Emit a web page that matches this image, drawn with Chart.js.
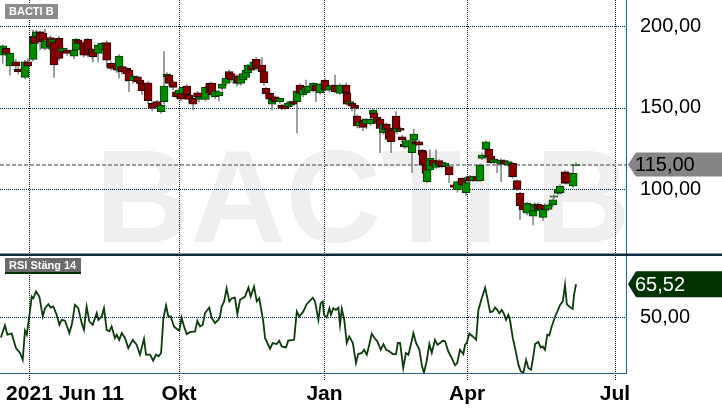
<!DOCTYPE html>
<html><head><meta charset="utf-8">
<script src="https://cdn.jsdelivr.net/npm/chart.js@4/dist/chart.umd.min.js"></script>
<style>
html,body{margin:0;padding:0;background:#fff;width:722px;height:410px;overflow:hidden}
#top{position:absolute;left:0;top:0}
#bot{position:absolute;left:0;top:255px}
</style></head><body>
<canvas id="top" width="722" height="255"></canvas>
<canvas id="bot" width="722" height="155"></canvas>
<script>
// ---- DATA (session index = trading-day position on the time axis) ----
const watermark = 'BACTI B';
const priceTitle = 'BACTI B';
const rsiTitle = 'RSI Stäng 14';

const sessions = [
1.2,2.7,4.4,7.0,8.1,11.1,12.4,14.7,15.3,16.1,
17.8,19.1,20.0,22.4,23.4,24.0,26.2,27.8,29.8,32.9,
33.8,34.7,37.2,39.1,40.9,41.3,43.6,45.3,47.4,49.3,
51.9,52.9,54.1,56.3,57.3,59.1,61.1,62.2,63.1,65.8,
67.6,69.8,71.6,72.9,74.2,75.1,76.9,78.4,79.5,80.4,
81.5,83.0,83.9,85.8,87.8,88.4,91.3,93.2,94.2,95.6,
97.3,98.7,100.4,101.8,102.7,105.2,105.8,107.0,108.1,109.3,
110.2,111.6,112.8,113.9,116.4,117.3,118.2,119.8,120.9,122.2,
124.4,125.2,126.7,128.1,129.2,130.2,132.0,133.3,134.7,136.0,
137.0,139.3,140.4,142.2,144.4,146.4,148.0,148.9,151.1,153.8,
154.2,155.4,156.4,157.6,158.7,159.7,161.3,162.8,164.7,165.8,
166.2,167.6,168.9,170.4,171.7,172.9,173.8,176.0,176.4,177.8,
178.7,179.6,180.4,183.1,183.9,184.9,186.2,187.6,188.0,189.3,
189.8,191.1,192.4,193.8,195.1,196.4,197.8,199.6,201.8,203.3,
205.3,207.1,208.0,208.8,210.2,212.0,213.3,214.2,216.0,217.2,
218.1,219.6,220.9,222.7,224.0,225.8,227.8,229.8,231.1,232.4,
234.2,236.9,237.6,239.0,240.0,241.3,242.2,243.6,245.7,246.2,
248.0,248.9,251.1,252.2,254.7,256.0];
const opens = [
182.2,186.3,175.5,178.1,173.4,168.5,178.1,179.6,193.9,193.5,
196.5,195.5,186.3,193.0,185.7,190.4,192.4,184.3,185.3,181.6,
185.3,191.4,189.8,191.8,185.7,184.3,183.2,185.7,189.8,177.1,
176.1,173.0,175.1,174.0,173.0,166.5,168.9,166.9,164.8,165.2,
152.6,153.6,147.4,153.6,168.9,169.9,165.8,159.7,157.7,158.7,
158.3,163.2,157.7,155.6,159.1,155.0,155.0,164.8,164.8,156.6,
157.1,161.8,164.8,172.0,170.9,164.8,169.3,164.8,166.9,168.5,
171.4,175.1,174.0,179.6,176.1,172.0,161.8,158.7,152.1,156.6,
153.6,151.5,151.5,150.5,151.5,153.6,153.6,163.8,157.7,159.1,
160.0,160.7,163.8,159.1,166.9,160.7,161.0,163.8,158.7,163.8,
159.1,152.1,152.6,151.5,144.8,138.7,142.3,139.9,139.9,146.0,
146.8,144.0,142.7,134.6,139.9,137.2,136.2,144.8,135.2,137.2,
132.1,127.5,126.0,122.3,130.1,129.0,129.0,123.9,122.9,114.7,
104.5,111.7,117.8,113.3,117.4,116.2,114.1,113.7,102.5,99.4,
106.5,97.8,105.0,107.6,105.1,107.6,105.1,118.8,124.3,124.3,
120.2,116.2,116.2,115.3,117.4,114.7,115.7,105.1,97.3,90.2,
85.1,83.4,86.7,90.8,90.2,82.6,90.2,87.5,90.2,95.0,
97.3,97.8,110.6,110.0,101.8,114.3];
const highs = [
188.5,187.5,184.0,179.5,175.0,179.0,180.0,197.5,195.0,197.5,
197.0,196.5,198.0,194.0,192.5,191.5,193.5,187.5,186.5,186.0,
192.5,192.0,190.5,192.5,186.5,185.0,189.0,190.0,191.0,178.0,
177.0,182.5,176.0,175.0,174.0,170.0,169.5,167.5,165.5,166.0,
153.5,154.5,152.5,184.3,171.5,170.5,166.5,160.5,161.5,159.5,
163.0,164.0,158.5,156.5,160.0,157.5,163.0,165.5,165.5,161.0,
160.5,165.0,168.5,173.0,171.5,170.0,170.0,170.0,171.5,173.5,
176.5,176.0,178.5,180.8,180.8,172.5,162.5,159.5,155.5,157.0,
156.0,152.0,152.0,153.0,154.0,154.0,161.0,164.5,162.0,166.9,
163.5,165.5,164.5,165.0,167.9,163.8,164.0,169.9,164.5,165.2,
159.5,154.0,153.0,152.0,145.5,142.0,143.0,143.5,143.5,149.0,
147.5,145.0,143.5,140.5,140.5,138.0,137.0,147.5,138.0,138.0,
133.0,128.5,130.5,130.5,136.6,130.0,130.0,124.5,123.5,115.5,
112.5,124.0,118.5,124.0,118.0,116.8,116.2,114.5,103.0,105.0,
107.0,104.5,107.5,108.5,108.0,108.0,115.5,122.0,129.5,125.0,
121.0,118.8,118.3,118.5,118.0,117.3,116.3,105.5,98.0,91.0,
92.0,87.5,91.5,91.5,90.8,88.8,91.0,90.8,94.0,96.5,
100.5,102.5,111.5,110.8,115.0,116.0];
const lows = [
177.1,182.0,169.9,174.0,170.5,167.5,174.5,178.5,188.5,192.5,
185.3,190.0,185.3,186.0,184.5,168.5,179.0,183.0,182.0,180.0,
184.0,188.5,181.0,181.0,180.0,178.0,178.0,184.5,175.0,173.0,
171.5,168.0,170.5,166.0,159.7,165.0,164.5,163.5,158.0,152.6,
148.0,149.5,146.4,152.0,167.5,163.5,161.0,155.5,156.5,154.0,
157.0,156.5,153.0,148.5,155.0,153.5,154.0,158.0,156.5,155.5,
154.0,160.5,163.5,166.5,165.5,163.0,164.0,163.5,165.5,167.0,
170.5,172.0,173.0,173.0,171.5,163.5,157.0,154.0,148.5,152.0,
152.5,148.5,148.8,149.5,150.5,151.5,134.4,157.5,156.5,158.0,
159.0,159.5,153.6,158.0,160.0,159.5,160.0,159.0,158.0,158.5,
151.5,151.0,148.0,142.3,137.5,137.5,135.8,137.0,139.0,145.0,
142.5,137.0,122.3,133.5,135.0,129.0,122.3,135.0,134.0,135.0,
129.0,125.0,125.0,110.0,129.5,126.5,124.0,120.0,114.0,109.0,
104.0,111.0,113.5,112.5,114.0,113.0,113.5,103.9,100.0,98.0,
101.5,96.0,104.0,104.0,104.5,104.5,104.5,118.0,123.5,119.0,
115.5,115.5,110.0,104.5,114.5,114.0,106.5,99.0,81.2,86.0,
84.0,77.9,86.0,87.0,87.5,80.5,86.0,86.5,89.0,94.0,
96.5,97.0,103.0,103.0,101.0,114.0];
const closes = [
187.9,183.2,183.2,175.5,172.0,178.1,175.5,193.5,189.4,196.5,
190.4,191.4,191.0,187.3,191.8,176.1,180.2,186.3,183.2,185.3,
191.8,189.4,182.2,182.2,182.2,181.2,188.3,189.4,179.1,174.0,
173.0,181.6,172.0,170.6,166.5,169.3,165.8,164.8,160.3,154.2,
149.5,150.5,151.5,163.2,170.6,164.8,162.4,156.6,160.7,155.2,
162.4,157.7,155.0,152.1,156.6,156.6,162.4,159.1,157.7,160.3,
159.7,164.4,167.9,167.9,166.9,169.3,165.2,169.3,170.9,173.0,
176.1,173.0,178.1,174.0,172.0,165.2,158.3,155.2,155.0,153.6,
155.6,149.5,149.3,152.6,153.6,152.1,160.3,158.7,161.1,162.4,
163.0,164.8,160.3,164.4,160.7,163.2,163.5,159.7,163.8,159.1,
152.1,153.6,150.9,149.5,138.7,141.3,137.8,142.7,142.7,148.5,
143.4,140.3,137.2,139.9,136.2,130.5,129.0,136.2,137.2,136.0,
130.1,125.8,129.7,129.7,133.7,127.5,126.9,120.9,114.7,109.6,
111.7,118.8,114.1,116.2,114.7,113.7,115.7,108.6,101.0,104.5,
102.5,103.9,107.0,105.1,107.6,105.1,114.7,120.9,129.0,119.8,
116.2,118.2,117.8,117.8,115.3,116.8,107.6,99.8,89.6,87.1,
91.2,86.7,90.8,87.5,88.1,88.1,87.1,90.2,93.3,95.8,
99.8,101.8,103.5,103.9,109.6,115.0];

const rsiSessions = [
0.4,2.2,3.3,5.2,7.1,8.9,10.1,11.1,11.9,13.3,
14.1,14.8,16.0,17.5,19.0,20.0,21.5,22.5,23.7,25.2,
26.4,27.4,28.9,30.8,31.9,33.3,34.8,36.3,37.3,38.5,
39.7,41.2,43.0,43.7,45.2,46.2,47.4,48.6,49.6,51.1,
51.9,53.0,54.1,55.6,57.0,59.0,60.7,62.2,64.0,64.9,
66.7,68.1,69.3,70.5,71.6,72.6,73.8,74.8,75.9,77.3,
78.5,79.7,80.7,81.8,83.0,84.4,86.7,87.7,88.9,90.1,
91.1,91.9,93.0,94.1,95.6,97.0,97.8,98.5,99.6,100.7,
101.9,103.0,104.4,105.5,106.7,108.9,110.4,111.4,112.9,114.1,
115.2,117.0,117.8,120.0,121.2,123.0,124.1,125.2,127.1,128.1,
130.7,131.9,133.0,134.8,136.3,139.0,140.0,141.5,142.5,143.4,
144.0,145.2,146.4,147.1,148.1,149.3,150.4,151.1,151.9,153.0,
154.1,155.2,156.8,158.2,159.2,160.8,161.8,163.0,164.1,165.2,
166.7,167.7,169.2,170.4,171.6,173.0,174.5,176.0,176.8,177.8,
179.2,180.4,181.5,183.0,183.7,184.9,186.4,187.4,188.4,189.6,
190.8,191.9,193.3,194.4,195.6,196.8,197.8,199.2,200.8,202.2,
203.2,204.4,205.9,206.7,207.4,208.6,210.1,211.6,212.6,214.1,
215.6,216.6,217.8,219.0,220.0,221.0,221.9,223.0,224.0,224.9,
225.9,226.7,227.9,228.9,230.4,231.4,232.6,233.8,234.8,236.0,
237.0,237.8,239.2,240.3,241.2,242.2,243.2,244.1,245.2,246.7,
247.7,248.9,250.1,251.1,251.9,253.0,254.5,255.1,256.0];
const rsiValues = [
40.4,46.1,41.7,42.2,35.4,33.1,29.9,43.6,41.7,52.7,
59.7,58.9,62.1,59.7,50.3,54.2,56.1,54.5,55.0,51.1,
46.4,48.7,48.3,42.5,46.4,55.8,54.2,47.2,44.0,55.0,
48.0,46.4,51.9,48.7,50.3,54.2,44.0,43.3,45.6,40.1,
41.7,39.3,42.5,40.1,35.4,39.3,37.0,32.3,39.8,32.3,
32.3,29.5,32.3,31.5,33.1,49.5,55.5,50.3,50.3,45.6,
44.5,43.6,49.8,45.6,42.0,42.9,43.3,48.3,45.6,46.4,
51.9,53.0,54.5,49.5,47.2,48.7,50.3,55.0,57.4,63.6,
57.4,58.9,59.2,51.4,58.2,59.7,64.0,59.7,64.4,57.4,
58.9,48.0,40.1,35.1,37.8,37.3,38.9,36.2,35.7,38.9,
39.3,52.7,50.3,52.7,56.1,59.2,57.4,48.7,56.6,57.4,
51.1,49.8,54.2,51.1,54.2,53.4,54.5,46.4,53.9,48.7,
37.8,40.9,37.8,28.4,32.6,33.1,34.6,32.3,37.0,42.2,
39.8,38.6,34.6,37.3,34.6,33.9,32.6,32.6,37.8,37.8,
26.0,33.1,32.3,38.9,42.5,37.8,34.6,27.6,23.7,29.2,
37.3,33.1,39.3,37.0,37.8,38.9,38.6,33.9,30.7,27.3,
28.4,34.6,32.6,37.0,37.8,42.2,40.9,39.3,53.4,58.9,
63.9,58.9,52.4,52.7,54.5,53.4,51.9,53.4,51.4,48.7,
51.1,48.3,40.1,35.4,27.6,24.5,23.7,29.9,26.0,25.2,
31.5,37.3,38.3,35.7,36.2,34.6,41.7,41.3,45.6,50.3,
52.7,55.8,57.4,65.2,56.1,55.0,53.9,60.5,65.52];

const xTickSessions = [13.1, 79.6, 144.2, 207.6, 273.3];
const xTickLabels = ['2021 Jun 11', 'Okt', 'Jan', 'Apr', 'Jul'];
const priceTicks = [100, 150, 200];
const rsiTicks = [50];
const xRange = [0, 278.2];
const priceRange = [59.5, 216.0];
const rsiRange = [23.66, 79.3];

// ---- STYLE ----
const FONT = '"Liberation Sans", Arial, sans-serif';
const GRID = '#001c2c';
const AXIS = '#2f5c88';
const UPC = '#008a00', UPB = '#013d01';
const DNC = '#870000', DNB = '#2a0000';
const fmt = v => v.toFixed(2).replace('.', ',');
const lastPrice = closes[closes.length - 1];
const lastRsi = rsiValues[rsiValues.length - 1];

const bodies = sessions.map((s, i) => ({x: s, y: [opens[i], closes[i]]}));
const wicks = sessions.map((s, i) => ({x: s, y: [lows[i], highs[i]]}));
const isUp = sessions.map((s, i) => closes[i] >= opens[i]);

function line(ctx, x1, y1, x2, y2) { ctx.beginPath(); ctx.moveTo(x1, y1); ctx.lineTo(x2, y2); ctx.stroke(); }
function tag(ctx, x0, cy, h, fill, text, color) {
  ctx.save();
  ctx.beginPath();
  ctx.moveTo(x0, cy); ctx.lineTo(x0 + 8, cy - h / 2); ctx.lineTo(722, cy - h / 2);
  ctx.lineTo(722, cy + h / 2); ctx.lineTo(x0 + 8, cy + h / 2); ctx.closePath();
  ctx.fillStyle = fill; ctx.fill();
  ctx.fillStyle = color; ctx.font = '20px ' + FONT; ctx.textAlign = 'left'; ctx.textBaseline = 'middle';
  ctx.fillText(text, x0 + 7, cy + 1);
  ctx.restore();
}
function titleBox(ctx, x, y, w, h, fill, text, underline) {
  ctx.save();
  ctx.fillStyle = fill; ctx.fillRect(x, y, w, h);
  if (underline) { ctx.fillStyle = underline; ctx.fillRect(x, y + h, w, 2); }
  ctx.fillStyle = '#fff'; ctx.font = 'bold 11px ' + FONT; ctx.textAlign = 'left'; ctx.textBaseline = 'middle';
  ctx.fillText(text, x + 4, y + h / 2 + 0.5);
  ctx.restore();
}
const yAxisFit = s => { s.width = 96; s.paddingTop = 0; s.paddingBottom = 0; };

const topDeco = {
  id: 'topDeco',
  beforeDraw(chart) {
    const ctx = chart.ctx; ctx.save();
    ctx.fillStyle = '#fff'; ctx.fillRect(0, 0, chart.width, chart.height);
    ctx.font = 'bold 132px ' + FONT; ctx.fillStyle = '#efefef';
    ctx.textAlign = 'left'; ctx.textBaseline = 'alphabetic';
    ctx.fillText(watermark, 95, 242);
    ctx.restore();
  },
  beforeDatasetsDraw(chart) {
    const {ctx, chartArea: a, scales: {x, y}} = chart; ctx.save();
    ctx.strokeStyle = GRID; ctx.lineWidth = 1; ctx.setLineDash([1, 1]);
    xTickSessions.forEach(v => { const p = Math.round(x.getPixelForValue(v)) + 0.5; line(ctx, p, a.top, p, a.bottom); });
    priceTicks.forEach(v => { const p = Math.round(y.getPixelForValue(v)) + 0.5; line(ctx, a.left, p, a.right, p); });
    ctx.strokeStyle = '#9a9a9a'; ctx.setLineDash([4, 2]); ctx.lineWidth = 2;
    const py = Math.round(y.getPixelForValue(lastPrice)); line(ctx, a.left, py, a.right, py);
    ctx.restore();
  },
  afterDraw(chart) {
    const {ctx, chartArea: a, scales: {y}} = chart; ctx.save();
    ctx.strokeStyle = AXIS; ctx.lineWidth = 1; ctx.setLineDash([]);
    line(ctx, Math.round(a.right) + 0.5, 0, Math.round(a.right) + 0.5, chart.height);
    ctx.fillStyle = '#0d2c3e'; ctx.fillRect(0, chart.height - 1.5, chart.width, 2);
    ctx.restore();
    tag(ctx, a.right + 2, y.getPixelForValue(lastPrice), 24, '#858585', fmt(lastPrice), '#000');
    titleBox(ctx, 5, 4, 53, 15, '#8c8c8c', priceTitle, null);
  }
};

new Chart(document.getElementById('top'), {
  data: {
    datasets: [
      {type: 'bar', data: bodies, backgroundColor: isUp.map(u => u ? UPC : DNC), borderColor: isUp.map(u => u ? UPB : DNB),
       borderWidth: 1, borderSkipped: false, barThickness: 8, grouped: false, order: 1},
      {type: 'bar', data: wicks, backgroundColor: '#8c8c8c', borderWidth: 0, barThickness: 1, grouped: false, order: 2}
    ]
  },
  options: {
    responsive: false, animation: false, events: [],
    layout: {padding: 0},
    plugins: {legend: {display: false}, tooltip: {enabled: false}},
    scales: {
      x: {type: 'linear', display: false, offset: false, min: xRange[0], max: xRange[1]},
      y: {type: 'linear', position: 'right', min: priceRange[0], max: priceRange[1],
          grid: {display: false, drawTicks: false}, border: {display: false},
          afterBuildTicks: s => { s.ticks = priceTicks.map(v => ({value: v})); },
          afterFit: yAxisFit,
          ticks: {callback: v => fmt(v), padding: 14, color: '#000', font: {family: FONT, size: 20}}}
    }
  },
  plugins: [topDeco]
});

const botDeco = {
  id: 'botDeco',
  beforeDraw(chart) {
    const ctx = chart.ctx; ctx.save();
    ctx.fillStyle = '#fff'; ctx.fillRect(0, 0, chart.width, chart.height);
    ctx.restore();
  },
  beforeDatasetsDraw(chart) {
    const {ctx, chartArea: a, scales: {x, y}} = chart; ctx.save();
    ctx.strokeStyle = GRID; ctx.lineWidth = 1; ctx.setLineDash([1, 1]);
    xTickSessions.forEach(v => { const p = Math.round(x.getPixelForValue(v)) + 0.5; line(ctx, p, a.top, p, a.bottom + 8); });
    rsiTicks.forEach(v => { const p = Math.round(y.getPixelForValue(v)) + 0.5; line(ctx, a.left, p, a.right, p); });
    ctx.restore();
  },
  afterDraw(chart) {
    const {ctx, chartArea: a, scales: {x, y}} = chart; ctx.save();
    ctx.strokeStyle = AXIS; ctx.lineWidth = 1; ctx.setLineDash([]);
    const r = Math.round(a.right) + 0.5, b = Math.round(a.bottom) + 0.5;
    line(ctx, r, 0, r, b); line(ctx, 0, b, r, b);
    ctx.fillStyle = '#0d2c3e'; ctx.fillRect(0, 0, chart.width, 1);
    ctx.fillStyle = '#000'; ctx.font = 'bold 21px ' + FONT; ctx.textAlign = 'left'; ctx.textBaseline = 'alphabetic';
    xTickSessions.forEach((v, i) => {
      const p = x.getPixelForValue(v);
      const first = xTickLabels[i].split(' ')[0];
      ctx.fillText(xTickLabels[i], p - ctx.measureText(first).width / 2, 145);
    });
    ctx.restore();
    tag(ctx, a.right + 2, y.getPixelForValue(lastRsi), 26, '#003300', fmt(lastRsi), '#fff');
    titleBox(ctx, 5, 3, 76, 14, '#6b6b6b', rsiTitle, '#003300');
  }
};

new Chart(document.getElementById('bot'), {
  type: 'line',
  data: {datasets: [{data: rsiSessions.map((s, i) => ({x: s, y: rsiValues[i]})), borderColor: '#0c3a0c', borderWidth: 1.8,
         pointRadius: 0, tension: 0, fill: false}]},
  options: {
    responsive: false, animation: false, events: [],
    layout: {padding: 0},
    plugins: {legend: {display: false}, tooltip: {enabled: false}},
    scales: {
      x: {type: 'linear', min: xRange[0], max: xRange[1], offset: false,
          grid: {display: false, drawTicks: false}, border: {display: false}, ticks: {display: false},
          afterFit: s => { s.height = 37; s.paddingLeft = 0; s.paddingRight = 0; }},
      y: {type: 'linear', position: 'right', min: rsiRange[0], max: rsiRange[1],
          grid: {display: false, drawTicks: false}, border: {display: false},
          afterBuildTicks: s => { s.ticks = rsiTicks.map(v => ({value: v})); },
          afterFit: yAxisFit,
          ticks: {callback: v => fmt(v), padding: 14, color: '#000', font: {family: FONT, size: 20}}}
    }
  },
  plugins: [botDeco]
});
</script>
</body></html>
